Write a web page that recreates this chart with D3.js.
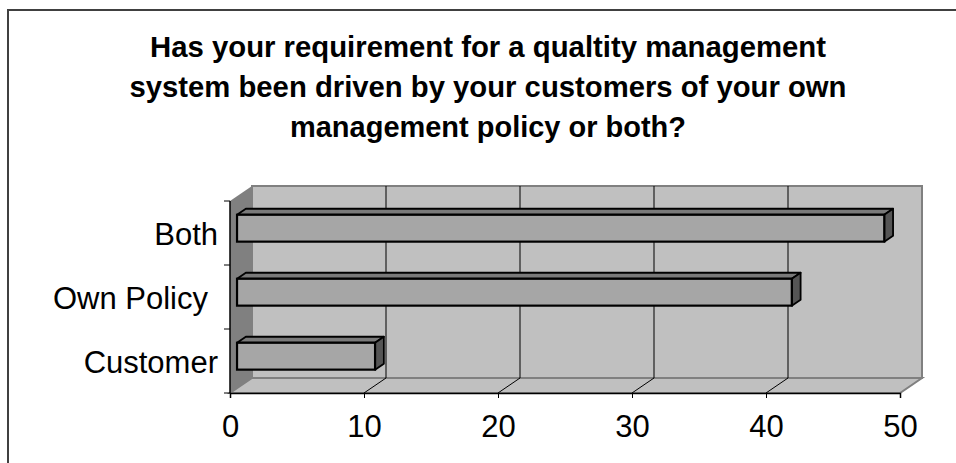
<!DOCTYPE html>
<html>
<head>
<meta charset="utf-8">
<script src="https://cdn.jsdelivr.net/npm/d3@7"></script>
<style>
  html, body { margin: 0; padding: 0; background: #fff; }
  svg { display: block; }
  text { font-family: "Liberation Sans", Arial, sans-serif; }
</style>
</head>
<body>
<svg id="chart" width="956" height="463"></svg>
<script>
// ---- data ----
const titleLines = [
  "Has your requirement for a qualtity management",
  "system been driven by your customers of your own",
  "management policy or both?"
];
const categories = ["Both", "Own Policy ", "Customer"];
const values = [48.3, 41.4, 10.3];
const xTicks = [0, 10, 20, 30, 40, 50];

// ---- layout ----
const svg = d3.select("#chart");
const depth = { dx: 22, dy: -15 };          // 3D depth offset of back wall
const barFront = 0.32, barBack = 0.72;      // bar depth position (fraction of full depth)

const x = d3.scaleLinear().domain([0, 50]).range([230, 900]);
const y = d3.scaleBand().domain(categories).range([201, 393]).paddingInner(0.58).paddingOuter(0.29);
const yStep = d3.scaleBand().domain(categories).range([201, 393]).padding(0);

// outer border
svg.append("rect").attr("x", 8).attr("y", 10).attr("width", 1000).attr("height", 600)
  .attr("fill", "#fff").attr("stroke", "#404040").attr("stroke-width", 2);

// title
const titleG = svg.append("g");
const titleWidths = [676, 717, 396];
titleLines.forEach((t, i) => {
  titleG.append("text")
    .attr("x", 488).attr("y", 57 + i * 40)
    .attr("text-anchor", "middle")
    .attr("font-size", 29).attr("font-weight", "bold")
    .attr("fill", "#000")
    .attr("textLength", titleWidths[i]).attr("lengthAdjust", "spacingAndGlyphs")
    .text(t);
});

const x0 = x(0), x1 = x(50), yTop = 201, yBot = 393;
const dx = depth.dx, dy = depth.dy;
const poly = pts => "M" + pts.map(p => p.join(",")).join("L") + "Z";

// left side wall
svg.append("path")
  .attr("d", poly([[x0, yTop], [x0 + dx, yTop + dy], [x0 + dx, yBot + dy], [x0, yBot]]))
  .attr("fill", "#808080").attr("stroke", "none");

// back wall
svg.append("rect")
  .attr("x", x0 + dx).attr("y", yTop + dy)
  .attr("width", x1 - x0).attr("height", yBot - yTop)
  .attr("fill", "#C0C0C0").attr("stroke", "#808080").attr("stroke-width", 2);

// floor
svg.append("path")
  .attr("d", poly([[x0, yBot], [x0 + dx, yBot + dy], [x1 + dx, yBot + dy], [x1, yBot]]))
  .attr("fill", "#C0C0C0").attr("stroke", "#808080").attr("stroke-width", 2);

// gridlines: back wall verticals + floor diagonals
xTicks.forEach(t => {
  const xt = x(t);
  if (t > 0 && t < 50) {
    svg.append("line")
      .attr("x1", xt + dx).attr("x2", xt + dx)
      .attr("y1", yTop + dy).attr("y2", yBot + dy)
      .attr("stroke", "#000").attr("stroke-width", 1);
    svg.append("line")
      .attr("x1", xt).attr("y1", yBot)
      .attr("x2", xt + dx).attr("y2", yBot + dy)
      .attr("stroke", "#000").attr("stroke-width", 1);
  }
});

// bars (3D)
const bars = svg.append("g");
categories.forEach((c, i) => {
  const v = values[i];
  const fx = barFront * dx, fy = barFront * dy;
  const bx = barBack * dx, by = barBack * dy;
  const left = x(0) + fx, right = x(v) + fx;
  const top = y(c) + fy, bot = y(c) + y.bandwidth() + fy;
  const ddx = bx - fx, ddy = by - fy;
  bars.append("path")
    .attr("d", poly([[left, top], [left + ddx, top + ddy], [right + ddx, top + ddy], [right, top]]))
    .attr("fill", "#7A7A7A").attr("stroke", "#000").attr("stroke-width", 1.8).attr("stroke-linejoin", "round");
  bars.append("path")
    .attr("d", poly([[right, top], [right + ddx, top + ddy], [right + ddx, bot + ddy], [right, bot]]))
    .attr("fill", "#555555").attr("stroke", "#000").attr("stroke-width", 1.8).attr("stroke-linejoin", "round");
  bars.append("rect")
    .attr("x", left).attr("y", top)
    .attr("width", right - left).attr("height", bot - top)
    .attr("fill", "#A6A6A6").attr("stroke", "#000").attr("stroke-width", 2.2);
});

// category axis at front-left edge
svg.append("line").attr("x1", x0).attr("x2", x0).attr("y1", yTop).attr("y2", yBot)
  .attr("stroke", "#000").attr("stroke-width", 1.5);
const yTickPos = [yTop].concat(categories.map(c => yStep(c) + yStep.bandwidth()));
yTickPos.forEach(p => {
  svg.append("line").attr("x1", x0 - 6).attr("x2", x0).attr("y1", p).attr("y2", p)
    .attr("stroke", "#000").attr("stroke-width", 1);
});
categories.forEach(c => {
  svg.append("text")
    .attr("x", 218 - (c.endsWith(" ") ? 10 : 0))
    .attr("y", yStep(c) + yStep.bandwidth() / 2 + 12)
    .attr("text-anchor", "end")
    .attr("font-size", 31)
    .attr("fill", "#000")
    .text(c.trimEnd());
});

// value axis at floor front edge
const xAxis = d3.axisBottom(x).tickValues(xTicks).tickSize(5).tickFormat(d3.format("d"));
const gx = svg.append("g").attr("transform", `translate(0,${yBot})`).call(xAxis);
gx.select(".domain").attr("stroke", "#000").attr("stroke-width", 1.5);
gx.selectAll(".tick line").attr("stroke", "#000");
gx.selectAll(".tick text")
  .attr("y", 44).attr("dy", 0)
  .attr("font-size", 31).attr("fill", "#000")
  .attr("font-family", "'Liberation Sans', Arial, sans-serif");
</script>
</body>
</html>
